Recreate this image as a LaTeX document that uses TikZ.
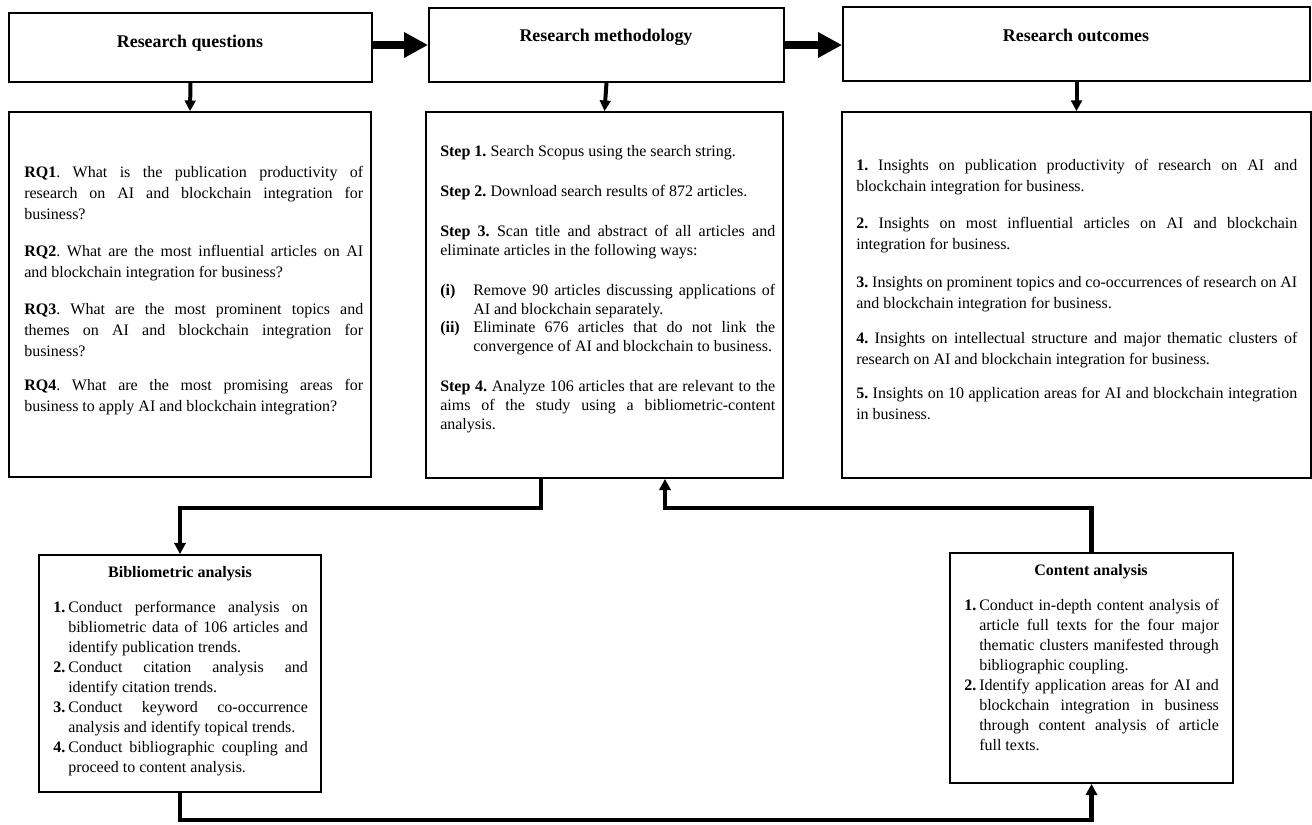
\documentclass[tikz,border=0pt]{standalone}
\usepackage{fontspec}
\setmainfont{Liberation Serif}
\usetikzlibrary{arrows.meta,fit}
\tolerance=9999 \hbadness=10000 \hyphenpenalty=10000 \exhyphenpenalty=10000
\frenchspacing
\begin{document}
\begin{tikzpicture}[x=0.75pt,y=-0.75pt,
  box/.style={draw=black,line width=1.3pt,inner sep=0pt},
  head/.style={anchor=base,inner sep=0pt,font=\fontsize{13.4}{16}\selectfont\bfseries},
  subhead/.style={anchor=base,inner sep=0pt,font=\fontsize{12}{15}\selectfont\bfseries},
  para/.style={anchor=base west,inner sep=0pt,align=justify},
  rq/.style={para,text width=254.25pt,font=\fontsize{12}{15.75}\selectfont\frenchspacing},
  mt/.style={para,text width=251.25pt,font=\fontsize{12}{14.25}\selectfont\frenchspacing},
  oc/.style={para,text width=330.75pt,font=\fontsize{12}{15.75}\selectfont\frenchspacing},
  bi/.style={para,text width=191pt,font=\fontsize{12}{15}\selectfont\frenchspacing},
  bigarrow/.style={line width=6pt,-{Triangle[length=18pt,width=18pt]}},
  downarrow/.style={line width=3pt,-{Triangle[length=8pt,width=8pt]}},
  conn/.style={line width=3.5pt},
  connarrow/.style={conn,-{Triangle[length=8.5pt,width=8.5pt]}}]
\useasboundingbox (0,0) rectangle (1312,824);

% header boxes
\node[box,fit={(9,13) (372,82)}] (rqh) {};
\node[box,fit={(429,8) (784,82)}] (mh) {};
\node[box,fit={(843,7) (1310,81)}] (oh) {};
\node[head] (rqht) at (190,48) {Research questions};
\node[head] (mht) at (606,42) {Research methodology};
\node[head] (oht) at (1076,42) {Research outcomes};

% body boxes
\node[box,fit={(9,112) (371,477)}] (rqb) {};
\node[box,fit={(426,112) (783,478)}] (mb) {};
\node[box,fit={(842,112) (1311,478)}] (ob) {};

% bottom boxes
\node[box,fit={(39,555) (321,792)}] (bib) {};
\node[box,fit={(950,553) (1233,783)}] (ca) {};

% RQ texts
\node[rq] (rq1) at (24,177) {\textbf{RQ1}. What is the publication productivity of\linebreak research on AI and blockchain integration for\linebreak business?};
\node[rq] (rq2) at (24,256) {\textbf{RQ2}. What are the most influential articles on AI\linebreak and blockchain integration for business?};
\node[rq] (rq3) at (24,314) {\textbf{RQ3}. What are the most prominent topics and\linebreak themes on AI and blockchain integration for\linebreak business?};
\node[rq] (rq4) at (24,390) {\textbf{RQ4}. What are the most promising areas for\linebreak business to apply AI and blockchain integration?};

% Methodology texts
\node[mt] (s1) at (440,156) {\textbf{Step 1.} Search Scopus using the search string.};
\node[mt] (s2) at (440,196) {\textbf{Step 2.} Download search results of 872 articles.};
\node[mt] (s3) at (440,236) {\textbf{Step 3.} Scan title and abstract of all articles and\linebreak eliminate articles in the following ways:};
\node[mt] (s3a) at (440,295) {\makebox[24.75pt][l]{\textbf{(i)}}\hangindent=24.75pt Remove 90 articles discussing applications of\linebreak AI and blockchain separately.\par};
\node[mt] (s3b) at (440,332) {\makebox[24.75pt][l]{\textbf{(ii)}}\hangindent=24.75pt Eliminate 676 articles that do not link the\linebreak convergence of AI and blockchain to business.\par};
\node[mt] (s4) at (440,391) {\textbf{Step 4.} Analyze 106 articles that are relevant to the\linebreak aims of the study using a bibliometric-content\linebreak analysis.};

% Outcome texts
\node[oc] (o1) at (856,170) {\textbf{1.} Insights on publication productivity of research on AI and\linebreak blockchain integration for business.};
\node[oc] (o2) at (856,228) {\textbf{2.} Insights on most influential articles on AI and blockchain\linebreak integration for business.};
\node[oc] (o3) at (856,287) {\textbf{3.} Insights on prominent topics and co-occurrences of research on AI\linebreak and blockchain integration for business.};
\node[oc] (o4) at (856,343) {\textbf{4.} Insights on intellectual structure and major thematic clusters of\linebreak research on AI and blockchain integration for business.};
\node[oc] (o5) at (856,398) {\textbf{5.} Insights on 10 application areas for AI and blockchain integration\linebreak in business.};

% Bibliometric texts
\node[subhead] (bibt) at (180,577) {Bibliometric analysis};
\node[bi] (b1) at (53,612) {\makebox[11.25pt][l]{\textbf{1.}}\hangindent=11.25pt Conduct performance analysis on\linebreak bibliometric data of 106 articles and\linebreak identify publication trends.\par};
\node[bi] (b2) at (53,672) {\makebox[11.25pt][l]{\textbf{2.}}\hangindent=11.25pt Conduct citation analysis and\linebreak identify citation trends.\par};
\node[bi] (b3) at (53,712) {\makebox[11.25pt][l]{\textbf{3.}}\hangindent=11.25pt Conduct keyword co-occurrence\linebreak analysis and identify topical trends.\par};
\node[bi] (b4) at (53,752) {\makebox[11.25pt][l]{\textbf{4.}}\hangindent=11.25pt Conduct bibliographic coupling and\linebreak proceed to content analysis.\par};

% Content texts
\node[subhead] (cat) at (1091,575) {Content analysis};
\node[bi] (c1) at (964,610) {\makebox[11.25pt][l]{\textbf{1.}}\hangindent=11.25pt Conduct in-depth content analysis of\linebreak article full texts for the four major\linebreak thematic clusters manifested through\linebreak bibliographic coupling.\par};
\node[bi] (c2) at (964,690) {\makebox[11.25pt][l]{\textbf{2.}}\hangindent=11.25pt Identify application areas for AI and\linebreak blockchain integration in business\linebreak through content analysis of article\linebreak full texts.\par};

% connectors
\draw[bigarrow] (rqh.east |- 0,45) -- (mh.west |- 0,45);
\draw[bigarrow] (mh.east |- 0,45) -- (oh.west |- 0,45);
\draw[downarrow] (rqh.south) -- (rqb.north);
\draw[downarrow] (mh.south) -- (mb.north);
\draw[downarrow] (oh.south) -- (ob.north);

\coordinate (j1) at (541,508);
\coordinate (j2) at (665,508);
\coordinate (bot) at (600,820);
\draw[connarrow] (mb.south -| j1) -- (j1) -| (bib.north);
\draw[connarrow] (ca.north) |- (j2) -- (mb.south -| j2);
\draw[connarrow] (bib.south) |- (bot) -| (ca.south);
\end{tikzpicture}
\end{document}
